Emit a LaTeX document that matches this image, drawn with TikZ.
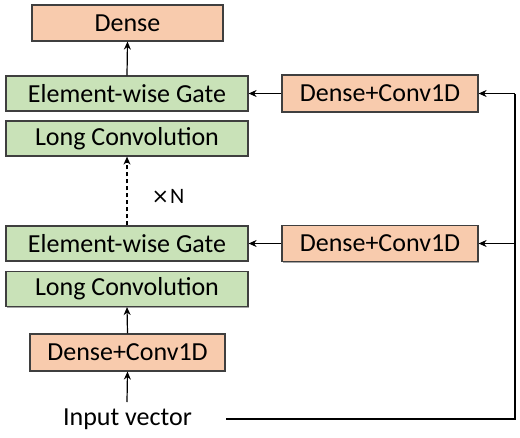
\documentclass[tikz,border=0pt]{standalone}
\usepackage{fontspec}
\setmainfont{Carlito}
\newfontfamily\symfont{DejaVu Sans}
\usetikzlibrary{arrows.meta,shadows}
\definecolor{orangebox}{HTML}{F8CBAD}
\definecolor{greenbox}{HTML}{C9E2B8}
\definecolor{boxline}{HTML}{3F3F3F}
\begin{document}
\begin{tikzpicture}[x=1pt,y=-1pt,
  box/.style={draw=boxline,line width=1.2pt,inner sep=0pt,
    font=\fontsize{26}{30}\selectfont,
    drop shadow={shadow xshift=1.3pt,shadow yshift=-1.3pt,opacity=0.35,fill=black}},
  obox/.style={box,fill=orangebox},
  gbox/.style={box,fill=greenbox,minimum width=242pt,minimum height=35pt},
  conn/.style={line width=1.2pt,-{Stealth[length=8pt,width=7pt]}},
  plain/.style={line width=1.2pt}]
\useasboundingbox (0,0) rectangle (520,437);
\node[obox,minimum width=191pt,minimum height=36pt] (dense) at (127.5,23) {Dense};
\node[gbox] (eg1) at (127,93.5) {Element-wise Gate};
\node[gbox] (lc1) at (127,138.5) {Long Convolution};
\node[gbox] (eg2) at (127,243.5) {Element-wise Gate};
\node[gbox] (lc2) at (127,289) {Long Convolution};
\node[obox,minimum width=195pt,minimum height=37pt] (dc0) at (127.5,352.5) {Dense+Conv1D};
\node[obox,minimum width=196pt,minimum height=37pt] (dc1) at (380,93.5) {Dense+Conv1D};
\node[obox,minimum width=196pt,minimum height=36pt] (dc2) at (380,243.5) {Dense+Conv1D};
\node[font=\fontsize{26}{30}\selectfont,inner sep=0pt] (inp) at (127.5,419) {Input vector};
\node[font=\fontsize{22}{24}\selectfont,inner sep=0pt] (xn) at (168,196) {{\symfont\fontsize{21}{22}\selectfont ×}\hspace{1pt}N};
\coordinate (inb) at (127,402);
\coordinate (ine) at (226,419);
\coordinate (cr) at (515,419);
\coordinate (c1) at (515,93.5);
\coordinate (c2) at (515,243.5);
\draw[conn] (eg1.north) -- (dense.south);
\draw[conn,dash pattern=on 4pt off 3pt] (eg2.north) -- (lc1.south);
\draw[conn] (dc0.north) -- (lc2.south);
\draw[conn] (inb) -- (dc0.south);
\draw[conn] (dc1.west) -- (eg1.east);
\draw[conn] (dc2.west) -- (eg2.east);
\draw[plain] (ine) -- (cr) -- (c1);
\draw[conn] (c1) -- (dc1.east);
\draw[conn] (c2) -- (dc2.east);
\end{tikzpicture}
\end{document}
